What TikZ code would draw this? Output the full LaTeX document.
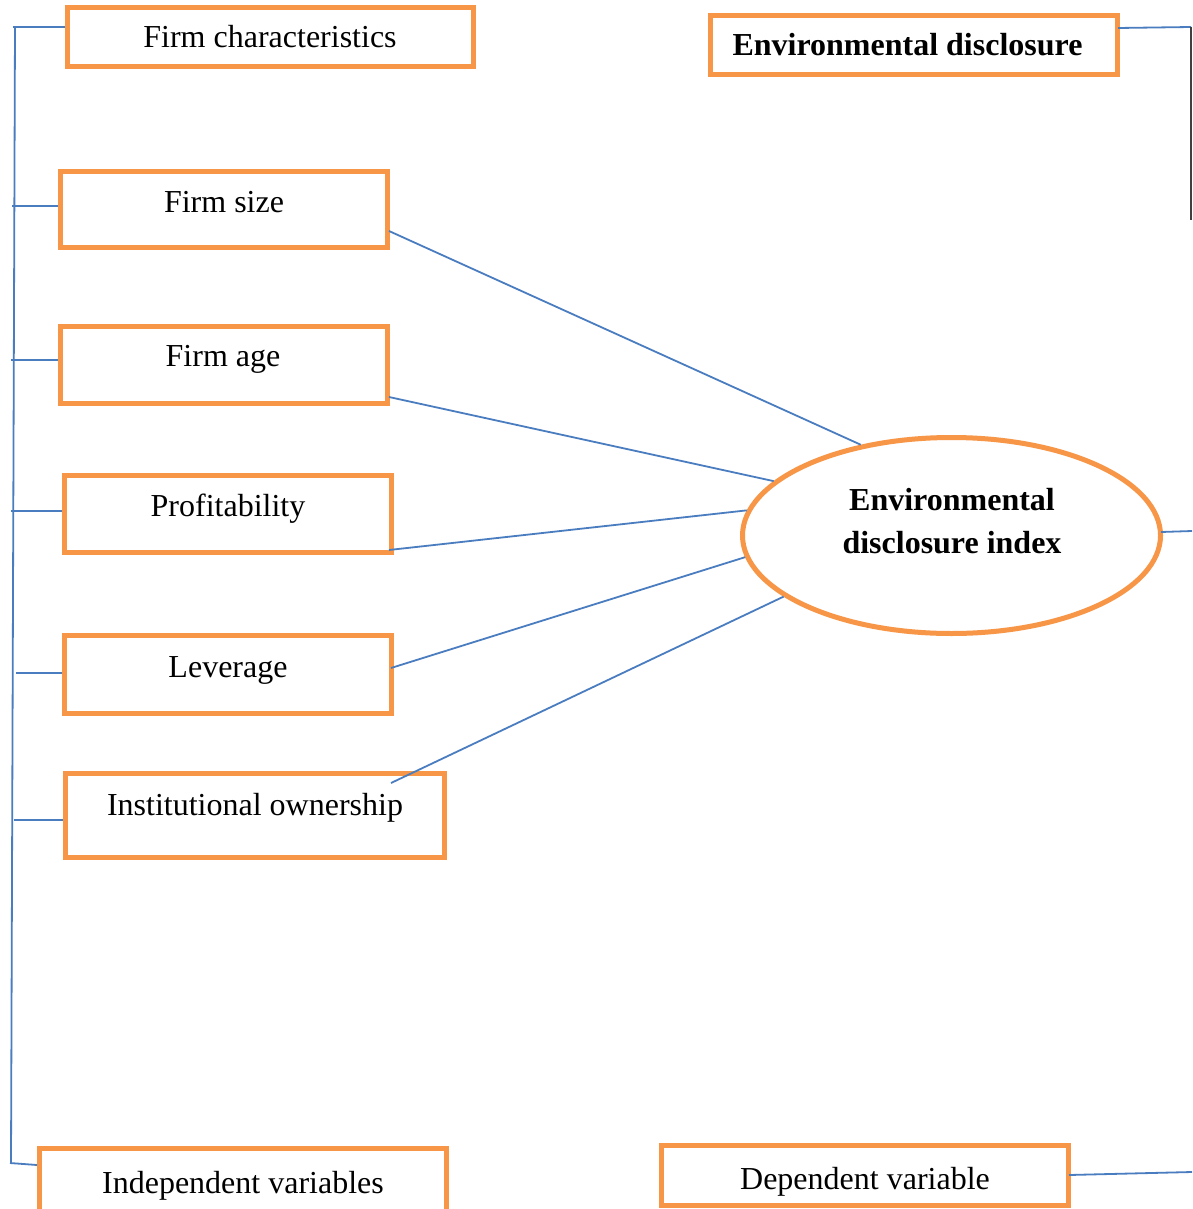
\documentclass[tikz,border=0pt]{standalone}
\usepackage{fontspec}
\setmainfont{Liberation Serif}
\usetikzlibrary{shapes.geometric}
\definecolor{boxorange}{HTML}{F79646}
\definecolor{lineblue}{HTML}{4A7DC0}
\definecolor{edgegrey}{HTML}{404040}
\begin{document}
\begin{tikzpicture}[x=1pt,y=-1pt,
  box/.style={draw=boxorange, line width=5pt, inner sep=0pt},
  lbl/.style={font=\fontsize{32}{38}\selectfont, inner sep=0pt, anchor=base},
  blbl/.style={lbl, font=\fontsize{32}{43}\selectfont\bfseries},
  conn/.style={draw=lineblue, line width=1.8pt},
  greyline/.style={draw=edgegrey, line width=1.5pt}]
\useasboundingbox (0,0) rectangle (1192,1209);
\fill[white] (0,0) rectangle (1192,1209);

% boxes
\node[box, minimum width=406pt, minimum height=59pt] (fc) at (270.5,37) {};
\node[box, minimum width=407pt, minimum height=59pt] (ed) at (914,45) {};
\node[box, minimum width=327pt, minimum height=76pt] (fs) at (224,209.5) {};
\node[box, minimum width=327pt, minimum height=77pt] (fa) at (224,365) {};
\node[box, minimum width=327pt, minimum height=77pt] (pr) at (228,514) {};
\node[box, minimum width=327pt, minimum height=78pt] (lv) at (228,674.5) {};
\node[box, minimum width=379pt, minimum height=84pt] (io) at (255,815.5) {};
\node[box, minimum width=407pt, minimum height=66pt] (iv) at (243,1181) {};
\node[box, minimum width=407pt, minimum height=60pt] (dv) at (865,1175.5) {};
\node[box, ellipse, minimum width=418pt, minimum height=196pt] (edi) at (951.5,535.5) {};

% labels
\node[lbl] (tfc) at (270,48) {Firm characteristics};
\node[blbl] (ted) at (907.5,56) {Environmental disclosure};
\node[lbl] (tfs) at (224,212) {Firm size};
\node[lbl] (tfa) at (223,366) {Firm age};
\node[lbl] (tpr) at (228,516) {Profitability};
\node[lbl] (tlv) at (228,677) {Leverage};
\node[lbl] (tio) at (255,815) {Institutional ownership};
\node[lbl] (tiv) at (243,1193) {Independent variables};
\node[lbl] (tdv) at (865,1189) {Dependent variable};
\node[blbl, anchor=center, align=center] (tedi) at (952,520.7) {Environmental\\disclosure index};

% left bracket
\coordinate (ltop) at (15,27);
\coordinate (lbot) at (11,1163);
\coordinate (t1) at (13,27);
\coordinate (t2) at (12,206);
\coordinate (t3) at (11,360);
\coordinate (t4) at (11,511);
\coordinate (t5) at (16,673);
\coordinate (t6) at (14,820);
\coordinate (t7) at (10,1163);
\draw[conn] (ltop) -- (lbot);
\draw[conn] (t1) -- ([yshift=10pt]fc.west);
\draw[conn] (t2) -- ([yshift=3.5pt]fs.west);
\draw[conn] (t3) -- ([yshift=5pt]fa.west);
\draw[conn] (t4) -- ([yshift=3pt]pr.west);
\draw[conn] (t5) -- ([yshift=1.5pt]lv.west);
\draw[conn] (t6) -- ([yshift=-4.5pt]io.west);
\draw[conn] (t7) -- ([yshift=16pt]iv.west);

% connectors to ellipse
\draw[conn] ([yshift=-21.5pt,xshift=-1pt]fs.east) -- (edi.135.65);
\draw[conn] ([yshift=-32pt,xshift=-1pt]fa.east) -- (edi.163.6);
\draw[conn] ([shift={(-5pt,5pt)}]pr.south east) -- (edi.173.7);
\draw[conn] ([yshift=6.5pt,xshift=-3pt]lv.east) -- (edi.186.9);
\draw[conn] ([shift={(-56pt,-12pt)}]io.north east) -- (edi.200.8);

% right side
\coordinate (rtop) at (1191,27);
\coordinate (rbot) at (1191,220);
\coordinate (rmid) at (1192,531);
\coordinate (rlow) at (1192,1172);
\draw[conn] ([yshift=17pt,xshift=-2pt]ed.east) -- (rtop);
\draw[greyline] (rtop) -- (rbot);
\draw[conn] ([yshift=3.5pt,xshift=-2pt]edi.east) -- (rmid);
\draw[conn] ([yshift=0.5pt,xshift=-2pt]dv.east) -- (rlow);
\end{tikzpicture}
\end{document}
